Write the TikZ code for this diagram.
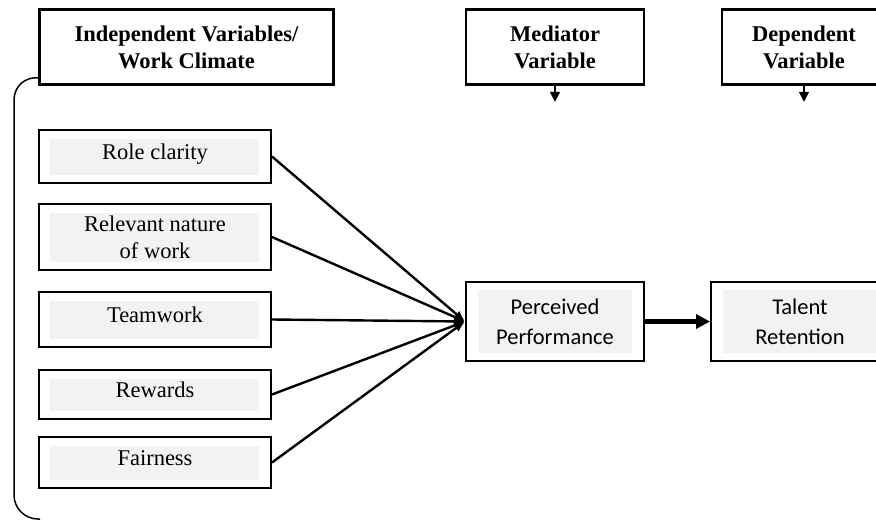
\documentclass[tikz,border=0pt]{standalone}
\usepackage{fontspec}
\setmainfont{Liberation Serif}
\newfontfamily\calibrifont{Carlito}
\usetikzlibrary{arrows.meta,positioning,calc}

\begin{document}
\begin{tikzpicture}[x=1pt, y=-1pt, >={Latex[length=11pt,width=9pt]}, line width=2pt]
    % Estilos para los bloques
    \tikzstyle{header} = [draw, rectangle, line width=2.6pt, align=center, minimum height=75pt, font=\fontsize{22.5}{27}\selectfont\bfseries]
    \tikzstyle{factor} = [draw, rectangle, align=center, minimum width=232pt, text depth=9pt, font=\fontsize{22.5}{27}\selectfont,
        path picture={\fill[gray!10] ([shift={(11pt,-9pt)}]path picture bounding box.north west) rectangle ([shift={(-12pt,8pt)}]path picture bounding box.south east);}]
    \tikzstyle{outcome} = [draw, rectangle, align=center, minimum width=178pt, minimum height=79pt, font=\calibrifont\fontsize{22.5}{30}\selectfont,
        path picture={\fill[gray!10] ([shift={(12pt,-8pt)}]path picture bounding box.north west) rectangle ([shift={(-12pt,8pt)}]path picture bounding box.south east);}]

    \useasboundingbox (0,0) rectangle (876,522);

    % --- Cabeceras ---
    \node [header, minimum width=294pt] (ivhead) at (186.5,47) {Independent Variables/\\Work Climate};
    \node [header, minimum width=178pt] (medhead) at (555,47) {Mediator\\Variable};
    \node [header, minimum width=164pt] (dephead) at (804,47) {Dependent\\Variable};

    % --- Variables independientes ---
    \node [factor, minimum height=53pt] (role) at (155,156.5) {Role clarity};
    \node [factor, minimum height=66pt, text depth=0pt, below=19pt of role] (nature) {Relevant nature\\of work};
    \node [factor, minimum height=55pt, below=20pt of nature] (team) {Teamwork};
    \node [factor, minimum height=49pt, below=21pt of team] (rewards) {Rewards};
    \node [factor, minimum height=51pt, below=16pt of rewards] (fair) {Fairness};

    % --- Mediador y dependiente ---
    \node [outcome] (perf) at (555,321.5) {Perceived\\Performance};
    \node [outcome, right=65pt of perf] (talent) {Talent\\Retention};

    % --- Conexiones ---
    \foreach \f in {role,nature,team,rewards,fair}
        \draw [->, line width=2.4pt] (\f.east) -- (perf.west);
    \draw [-{Triangle[length=14pt,width=14pt]}, line width=4.5pt] (perf) -- (talent);

    % Flechas cortas bajo las cabeceras
    \coordinate [below=16pt of medhead.south] (medtip);
    \coordinate [below=16pt of dephead.south] (deptip);
    \draw [-{Triangle[length=10pt,width=10pt]}, line width=1.5pt] (medhead.south) -- (medtip);
    \draw [-{Triangle[length=10pt,width=10pt]}, line width=1.5pt] (dephead.south) -- (deptip);

    % Llave de agrupacion
    \coordinate (brend) at (40,519);
    \draw [line width=1.5pt, rounded corners=24pt]
        ([yshift=8pt]ivhead.south west) -- (14,76) -- (14,519) -- (brend);

\end{tikzpicture}
\end{document}
